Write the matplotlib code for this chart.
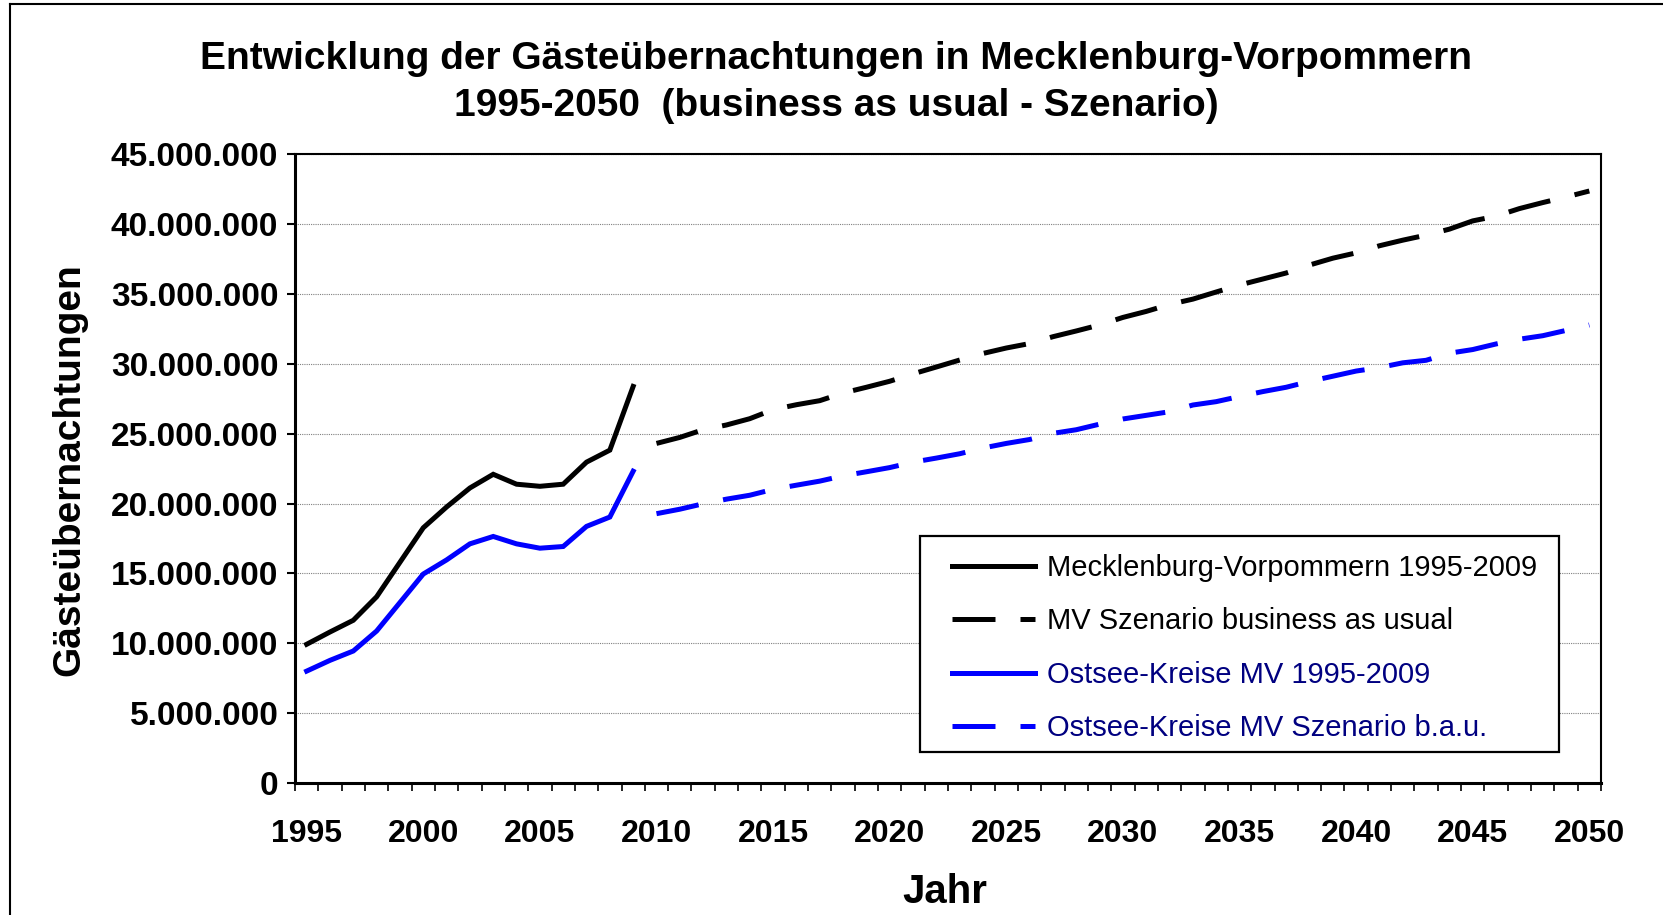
import matplotlib
matplotlib.use('Agg')
import matplotlib.pyplot as plt
from matplotlib.lines import Line2D
from matplotlib.patches import Rectangle
from matplotlib.ticker import FuncFormatter, MultipleLocator

plt.rcParams['font.family'] = ['Liberation Sans', 'DejaVu Sans']

# historical values 1995-2009 (millions)
years_hist = list(range(1995, 2010))
mv_hist = [9.93, 10.81, 11.65, 13.33, 15.80, 18.27, 19.76, 21.12, 22.10, 21.39,
           21.24, 21.39, 22.97, 23.83, 28.39]
ostsee_hist = [8.01, 8.78, 9.45, 10.88, 12.92, 14.96, 15.97, 17.12, 17.65, 17.12,
               16.81, 16.93, 18.37, 19.04, 22.32]

# scenario values 2010-2050 (business as usual, millions)
years_scen = list(range(2010, 2051))
mv_scen = [24.31, 24.74, 25.29, 25.63, 26.08, 26.73, 27.08, 27.37, 27.92, 28.33,
           28.76, 29.29, 29.78, 30.28, 30.75, 31.14, 31.46, 31.95, 32.36, 32.79,
           33.33, 33.76, 34.26, 34.64, 35.15, 35.65, 36.08, 36.51, 37.08, 37.57,
           37.95, 38.46, 38.86, 39.22, 39.65, 40.24, 40.58, 41.12, 41.55, 41.95,
           42.38]
ostsee_scen = [19.28, 19.60, 19.99, 20.32, 20.60, 21.02, 21.32, 21.61, 21.99, 22.28,
               22.58, 22.97, 23.26, 23.57, 23.98, 24.31, 24.59, 25.03, 25.29, 25.69,
               26.06, 26.32, 26.58, 27.06, 27.30, 27.67, 28.02, 28.33, 28.75, 29.12,
               29.49, 29.74, 30.08, 30.26, 30.77, 31.03, 31.43, 31.77, 32.02, 32.40,
               32.79]

labels = ['Mecklenburg-Vorpommern 1995-2009',
          'MV Szenario business as usual',
          'Ostsee-Kreise MV 1995-2009',
          'Ostsee-Kreise MV Szenario b.a.u.']

W, H = 1663, 915
AX_L, AX_R, AX_T, AX_B = 295, 1601, 154.4, 783
fig = plt.figure(figsize=(W / 100., H / 100.), dpi=100)
ax = fig.add_axes([AX_L / W, 1 - AX_B / H, (AX_R - AX_L) / W, (AX_B - AX_T) / H])


def ax_frac(x, y):
    # figure pixel -> axes fraction
    return (x - AX_L) / (AX_R - AX_L), (AX_B - y) / (AX_B - AX_T)


lw = 3.6
dash = (8.6, 5.0)
scale = 1e6
ax.plot(years_hist, [v * scale for v in mv_hist], color='black', lw=lw,
        solid_joinstyle='miter', label=labels[0])
ax.plot(years_scen, [v * scale for v in mv_scen], color='black', lw=lw,
        dashes=dash, dash_capstyle='butt', label=labels[1])
ax.plot(years_hist, [v * scale for v in ostsee_hist], color='#0000ff', lw=lw,
        solid_joinstyle='miter', label=labels[2])
ax.plot(years_scen, [v * scale for v in ostsee_scen], color='#0000ff', lw=lw,
        dashes=dash, dash_capstyle='butt', label=labels[3])

ax.set_xlim(1994.5, 2050.5)
ax.set_ylim(0, 45e6)
ax.yaxis.set_major_locator(MultipleLocator(5e6))
ax.yaxis.set_major_formatter(FuncFormatter(lambda v, p: f'{int(round(v)):,}'.replace(',', '.')))
ax.set_xticks(range(1995, 2051, 5))
ax.set_xticks([y + 0.5 for y in range(1994, 2051)], minor=True)
ax.grid(axis='y', which='major', color='#808080', lw=0.8, ls=(0, (1, 1)))
ax.set_axisbelow(True)

for s in ax.spines.values():
    s.set_linewidth(1.5)
    s.set_color('black')
ax.spines['left'].set_linewidth(2.2)
ax.spines['bottom'].set_linewidth(2.2)

ax.tick_params(axis='y', which='major', direction='out', length=6, width=1.5,
               pad=6, labelsize=24)
ax.tick_params(axis='x', which='major', length=0, pad=26, labelsize=23)
ax.tick_params(axis='x', which='minor', direction='out', length=6, width=1.2)
for t in ax.get_xticklabels() + ax.get_yticklabels():
    t.set_fontweight('bold')

# legend box drawn separately so the inner padding can match
bx0, by0 = ax_frac(919.6, 752)
bx1, by1 = ax_frac(1559, 535.6)
ax.add_patch(Rectangle((bx0, by0), bx1 - bx0, by1 - by0, transform=ax.transAxes,
                       facecolor='white', edgecolor='black', lw=1.6, zorder=4))
leg = ax.legend(loc='upper left', bbox_to_anchor=ax_frac(952.4, 554), frameon=False,
                fontsize=21, handlelength=2.83, handletextpad=0.4, borderpad=0,
                borderaxespad=0, labelspacing=0.87)
leg.set_zorder(5)
for txt, col in zip(leg.get_texts(), ['black', 'black', '#000080', '#000080']):
    txt.set_color(col)

fig.text(0.503, 1 - 59 / H, 'Entwicklung der Gästeübernachtungen in Mecklenburg-Vorpommern',
         ha='center', va='center', fontsize=28, fontweight='bold')
fig.text(0.503, 1 - 106 / H, '1995-2050  (business as usual - Szenario)',
         ha='center', va='center', fontsize=28, fontweight='bold')
fig.text(69 / W, 1 - 470 / H, 'Gästeübernachtungen', rotation=90, ha='center', va='center',
         fontsize=28, fontweight='bold')
fig.text(945 / W, 1 - 892 / H, 'Jahr', ha='center', va='center', fontsize=29, fontweight='bold')

# outer chart frame
fig.add_artist(Line2D([10 / W, 10 / W], [0, 1 - 4 / H], transform=fig.transFigure, color='black', lw=1.5))
fig.add_artist(Line2D([10 / W, 1], [1 - 4 / H, 1 - 4 / H], transform=fig.transFigure, color='black', lw=1.5))

plt.savefig('out.png', dpi=100)
